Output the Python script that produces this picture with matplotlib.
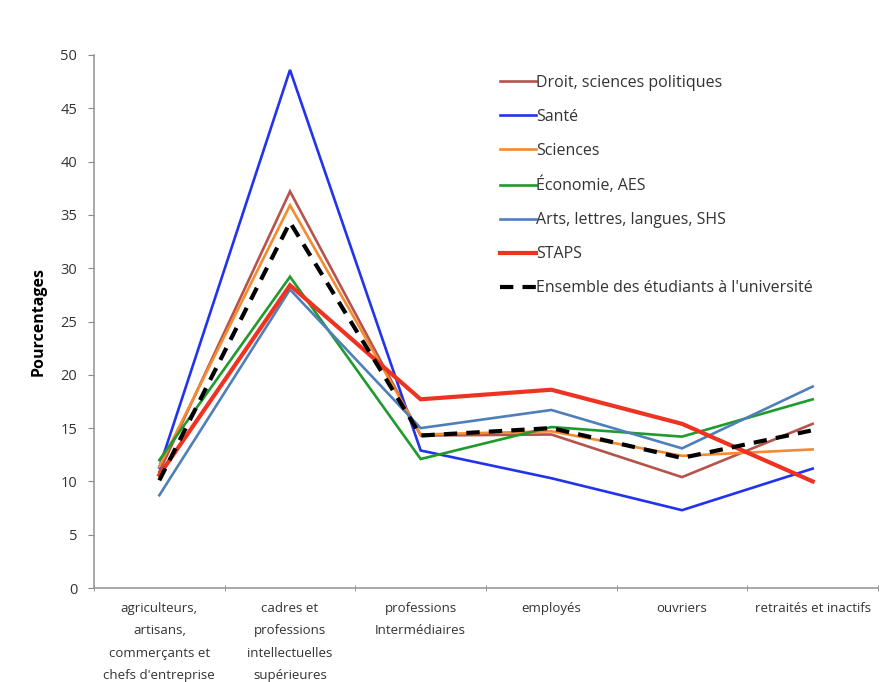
import matplotlib
matplotlib.use("Agg")
import matplotlib.pyplot as plt
import numpy as np

plt.rcParams['font.family'] = ['Open Sans', 'DejaVu Sans']

categories = ["agriculteurs,\nartisans,\ncommerçants et\nchefs d'entreprise",
              "cadres et\nprofessions\nintellectuelles\nsupérieures",
              "professions\nIntermédiaires",
              "employés",
              "ouvriers",
              "retraités et inactifs"]

droit = [10.9, 37.2, 14.3, 14.4, 10.4, 15.4]
sante = [11.3, 48.6, 12.9, 10.3, 7.3, 11.2]
sciences = [11.4, 35.9, 14.4, 14.7, 12.4, 13.0]
economie = [12.0, 29.2, 12.1, 15.1, 14.2, 17.7]
arts = [8.7, 28.0, 15.0, 16.7, 13.1, 18.9]
staps = [10.6, 28.4, 17.7, 18.6, 15.4, 10.0]
ensemble = [10.1, 34.3, 14.3, 15.0, 12.2, 14.8]

series = [
    ("Droit, sciences politiques", droit, "#B5534C", 1.9, "-"),
    ("Santé", sante, "#2233EE", 1.9, "-"),
    ("Sciences", sciences, "#F58A2E", 1.9, "-"),
    ("Économie, AES", economie, "#1F9A2C", 1.9, "-"),
    ("Arts, lettres, langues, SHS", arts, "#4F7FBA", 1.9, "-"),
    ("STAPS", staps, "#EE3322", 3.0, "-"),
]

fig = plt.figure(figsize=(8.93, 6.82), dpi=100)
ax = fig.add_axes([94/893, 1 - 588/682, (878-94)/893, (588-55)/682])

x = np.arange(len(categories))
for name, vals, col, lw, ls in series:
    ax.plot(x, vals, color=col, lw=lw, ls=ls, label=name, solid_joinstyle='miter')
ax.plot(x, ensemble, color="black", lw=3.0, ls=(0, (3.2, 2.2)),
        label="Ensemble des étudiants à l'université")

ax.set_xlim(-0.5, len(categories) - 0.5)
ax.set_ylim(0, 50)
ax.set_yticks(np.arange(0, 51, 5))
ax.set_xticks(x)
ax.set_xticklabels(categories, fontsize=9.5, color="#333333", linespacing=1.95)
ax.set_xticks(np.arange(-0.5, len(categories)), minor=True)
ax.tick_params(axis='x', which='major', length=0, pad=10)
ax.tick_params(axis='x', which='minor', length=4, color="#888888", direction='inout')
ax.tick_params(axis='y', length=4, color="#888888", labelsize=10.5, labelcolor="#333333", pad=8)

for s in ['top', 'right']:
    ax.spines[s].set_visible(False)
for s in ['left', 'bottom']:
    ax.spines[s].set_color("#999999")
    ax.spines[s].set_linewidth(1.2)

ax.set_ylabel("Pourcentages", fontsize=11.5, fontweight='bold', labelpad=10)

leg = ax.legend(loc='upper left', bbox_to_anchor=(0.5, 0.99), frameon=False,
                fontsize=11.5, handlelength=2.2, handletextpad=0.05,
                labelspacing=1.13, labelcolor="#333333")

fig.savefig("out.png", dpi=100, facecolor="white")
